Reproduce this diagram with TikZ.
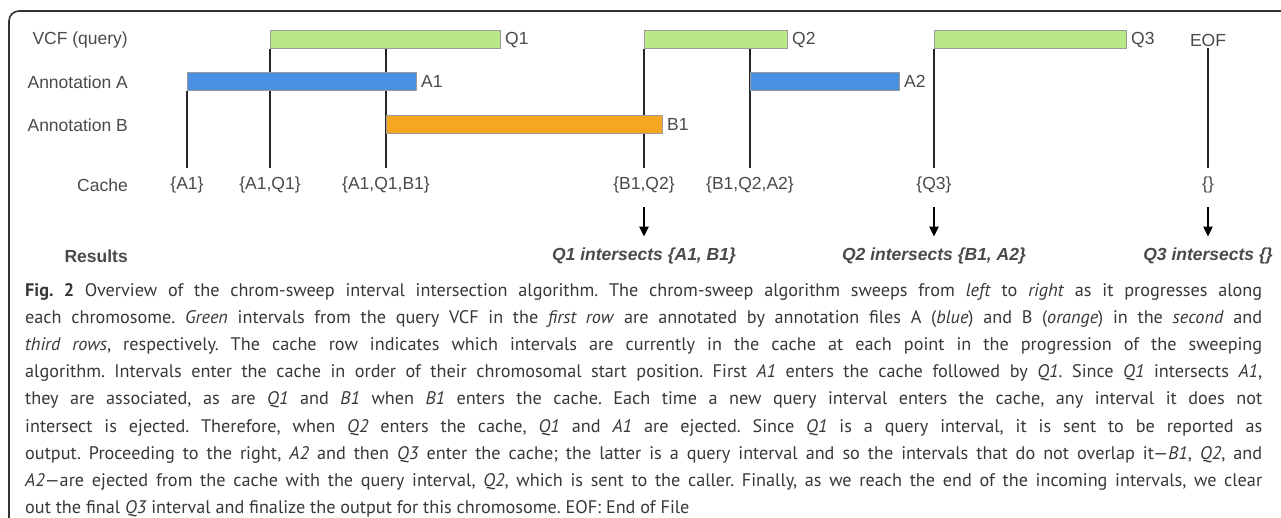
\documentclass[tikz,border=0pt]{standalone}
\usepackage{fontspec}
\setmainfont{Liberation Sans}
\newfontfamily\capfont{PT Sans}
\usetikzlibrary{arrows.meta}
\pgfdeclarelayer{background}
\pgfsetlayers{background,main}
\definecolor{qgreen}{HTML}{B8E986}
\definecolor{ablue}{HTML}{4A90E2}
\definecolor{borange}{HTML}{F5A623}
\definecolor{barline}{HTML}{9B9B9B}
\definecolor{lblgray}{HTML}{4A4A4A}
\definecolor{framegray}{HTML}{333333}
\definecolor{captxt}{HTML}{383838}
\begin{document}
\begin{tikzpicture}[x=1pt,y=-1pt,
  lbl/.style={font=\fontsize{17.5}{20}\selectfont, text=lblgray, inner sep=0pt},
  rowlbl/.style={lbl, anchor=east},
  boldlbl/.style={rowlbl, font=\fontsize{17.5}{20}\selectfont\bfseries},
  reslbl/.style={lbl, font=\fontsize{17.5}{20}\selectfont\bfseries\itshape},
  bar/.style={draw=barline, line width=1pt, minimum height=18pt, inner sep=0pt, anchor=west},
  qbar/.style={bar, fill=qgreen},
  abar/.style={bar, fill=ablue},
  bbar/.style={bar, fill=borange},
  barlbl/.style={lbl, anchor=west, xshift=4pt},
  sweep/.style={line width=1.4pt, black!85},
  resarrow/.style={line width=2.6pt, -{Triangle[length=10pt,width=9pt]}, shorten <=14pt, shorten >=11pt},
]
\useasboundingbox (0,0) rectangle (1281,518);
\draw[framegray, line width=1.6pt, rounded corners=10pt] (9,518) -- (9,11) -- (1281,11);

% row labels
\node[rowlbl] (lq) at (128,40) {VCF (query)};
\node[rowlbl] (la) at (128,82) {Annotation A};
\node[rowlbl] (lb) at (128,125) {Annotation B};
\node[rowlbl] (lc) at (128,185) {Cache};
\node[boldlbl] (lr) at (128,256) {Results};

% bars
\node[qbar, minimum width=230pt] (q1) at (270,40) {};
\node[qbar, minimum width=143pt] (q2) at (644,40) {};
\node[qbar, minimum width=192pt] (q3) at (934,40) {};
\node[abar, minimum width=229pt] (a1) at (187,81.5) {};
\node[abar, minimum width=149pt] (a2) at (750,81.5) {};
\node[bbar, minimum width=276pt] (b1) at (386,124.5) {};

\node[barlbl] (tq1) at (q1.east) {Q1};
\node[barlbl] (tq2) at (q2.east) {Q2};
\node[barlbl] (tq3) at (q3.east) {Q3};
\node[barlbl] (ta1) at (a1.east) {A1};
\node[barlbl] (ta2) at (a2.east) {A2};
\node[barlbl] (tb1) at (b1.east) {B1};
\node[lbl] (eof) at (1208,40) {EOF};

% cache labels
\node[lbl] (c1) at (187,185) {\{A1\}};
\node[lbl] (c2) at (270,185) {\{A1,Q1\}};
\node[lbl] (c3) at (386,185) {\{A1,Q1,B1\}};
\node[lbl] (c4) at (644,185) {\{B1,Q2\}};
\node[lbl] (c5) at (750,185) {\{B1,Q2,A2\}};
\node[lbl] (c6) at (934,185) {\{Q3\}};
\node[lbl] (c7) at (1208,185) {\{\}};

% results
\node[reslbl] (r1) at (644,256) {Q1 intersects \{A1, B1\}};
\node[reslbl] (r2) at (934,256) {Q2 intersects \{B1, A2\}};
\node[reslbl] (r3) at (1208,256) {Q3 intersects \{\}};

\coordinate (cachetop) at (0,168);
\begin{pgfonlayer}{background}
\fill[white] (0,0) rectangle (1281,518);
\draw[sweep] (a1.south west) -- (a1.south west |- cachetop);
\draw[sweep] (q1.south west) -- (q1.south west |- cachetop);
\draw[sweep] (q1.south -| b1.west) -- (b1.west |- cachetop);
\draw[sweep] (q2.south west) -- (q2.south west |- cachetop);
\draw[sweep] (q2.south -| a2.west) -- (a2.west |- cachetop);
\draw[sweep] (q3.south west) -- (q3.south west |- cachetop);
\draw[sweep, shorten <=2pt] (eof.south) -- (eof.south |- cachetop);
\end{pgfonlayer}

\draw[resarrow] (c4) -- (r1);
\draw[resarrow] (c6) -- (r2);
\draw[resarrow] (c7) -- (r3);

% caption
\node[anchor=north west, inner sep=0pt, text width=1237pt, align=justify,
      font=\capfont\fontsize{18.2}{27.2}\selectfont, text=captxt] (cap) at (25,283)
{\frenchspacing\hyphenpenalty=10000\tolerance=10000
\textbf{Fig.~2} Overview of the chrom-sweep interval intersection algorithm. The chrom-sweep algorithm sweeps from \emph{left} to \emph{right} as it progresses along\linebreak
each chromosome. \emph{Green} intervals from the query VCF in the \emph{first row} are annotated by annotation files A (\emph{blue}) and B (\emph{orange}) in the \emph{second} and\linebreak
\emph{third rows}, respectively. The cache row indicates which intervals are currently in the cache at each point in the progression of the sweeping\linebreak
algorithm. Intervals enter the cache in order of their chromosomal start position. First \emph{A1} enters the cache followed by \emph{Q1}. Since \emph{Q1} intersects \emph{A1},\linebreak
they are associated, as are \emph{Q1} and \emph{B1} when \emph{B1} enters the cache. Each time a new query interval enters the cache, any interval it does not\linebreak
intersect is ejected. Therefore, when \emph{Q2} enters the cache, \emph{Q1} and \emph{A1} are ejected. Since \emph{Q1} is a query interval, it is sent to be reported as\linebreak
output. Proceeding to the right, \emph{A2} and then \emph{Q3} enter the cache; the latter is a query interval and so the intervals that do not overlap it—\emph{B1}, \emph{Q2}, and\linebreak
\emph{A2}—are ejected from the cache with the query interval, \emph{Q2}, which is sent to the caller. Finally, as we reach the end of the incoming intervals, we clear\linebreak
out the final \emph{Q3} interval and finalize the output for this chromosome. EOF: End of File};
\end{tikzpicture}
\end{document}
